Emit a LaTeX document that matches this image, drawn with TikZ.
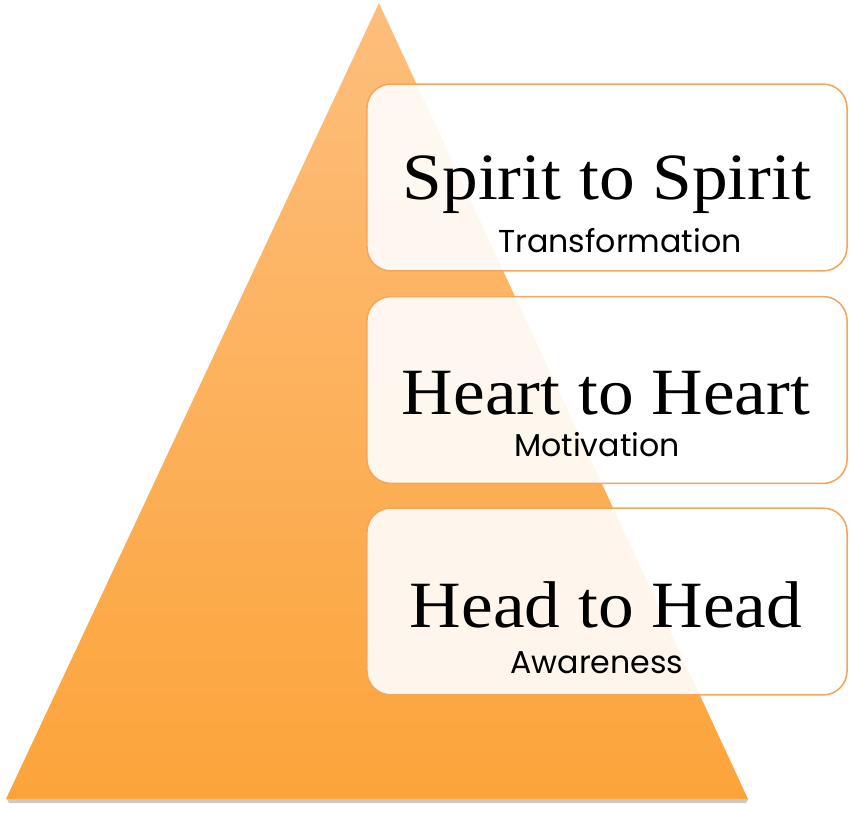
\documentclass[tikz,border=0pt]{standalone}
\usepackage{fontspec}
\usepackage{tikz}
\newfontfamily\levelfont[FakeStretch=1.08]{Liberation Serif}
\newfontfamily\notefont{Poppins}
\definecolor{pyrtop}{RGB}{253,190,124}
\definecolor{pyrbot}{RGB}{252,164,58}
\definecolor{boxline}{RGB}{246,166,92}
\tikzset{
  level/.style={draw=boxline, line width=1.1pt, fill=white, fill opacity=0.9,
    rounded corners=0.6cm, minimum width=12cm, minimum height=4.67cm},
  title/.style={anchor=base, font=\levelfont\fontsize{47}{50}\selectfont},
  note/.style={anchor=base, font=\notefont\fontsize{22.5}{25}\selectfont}
}

\begin{document}
\begin{tikzpicture}[x=0.025cm,y=-0.025cm]
\useasboundingbox (0,0) rectangle (850,813);
\fill [black!35, opacity=0.6] (7,799) -- (748,799) -- (746,803) -- (9,803) -- cycle;
\shade [top color=pyrtop, bottom color=pyrbot] (379,3) -- (748,799) -- (6,799) -- cycle;
\node [level] (spiritbox) at (607,177.5) {};
\node [level] (heartbox) at (607,390) {};
\node [level] (headbox) at (607,601.5) {};
\node [title] (spirit) at (607,200) {Spirit to Spirit};
\node [note] (transform) at (620,253) {Transformation};
\node [title] (heart) at (606,415) {Heart to Heart};
\node [note] (motive) at (597,457) {Motivation};
\node [title] (head) at (606,627) {Head to Head};
\node [note] (aware) at (597,673) {Awareness};
\end{tikzpicture}
\end{document}
